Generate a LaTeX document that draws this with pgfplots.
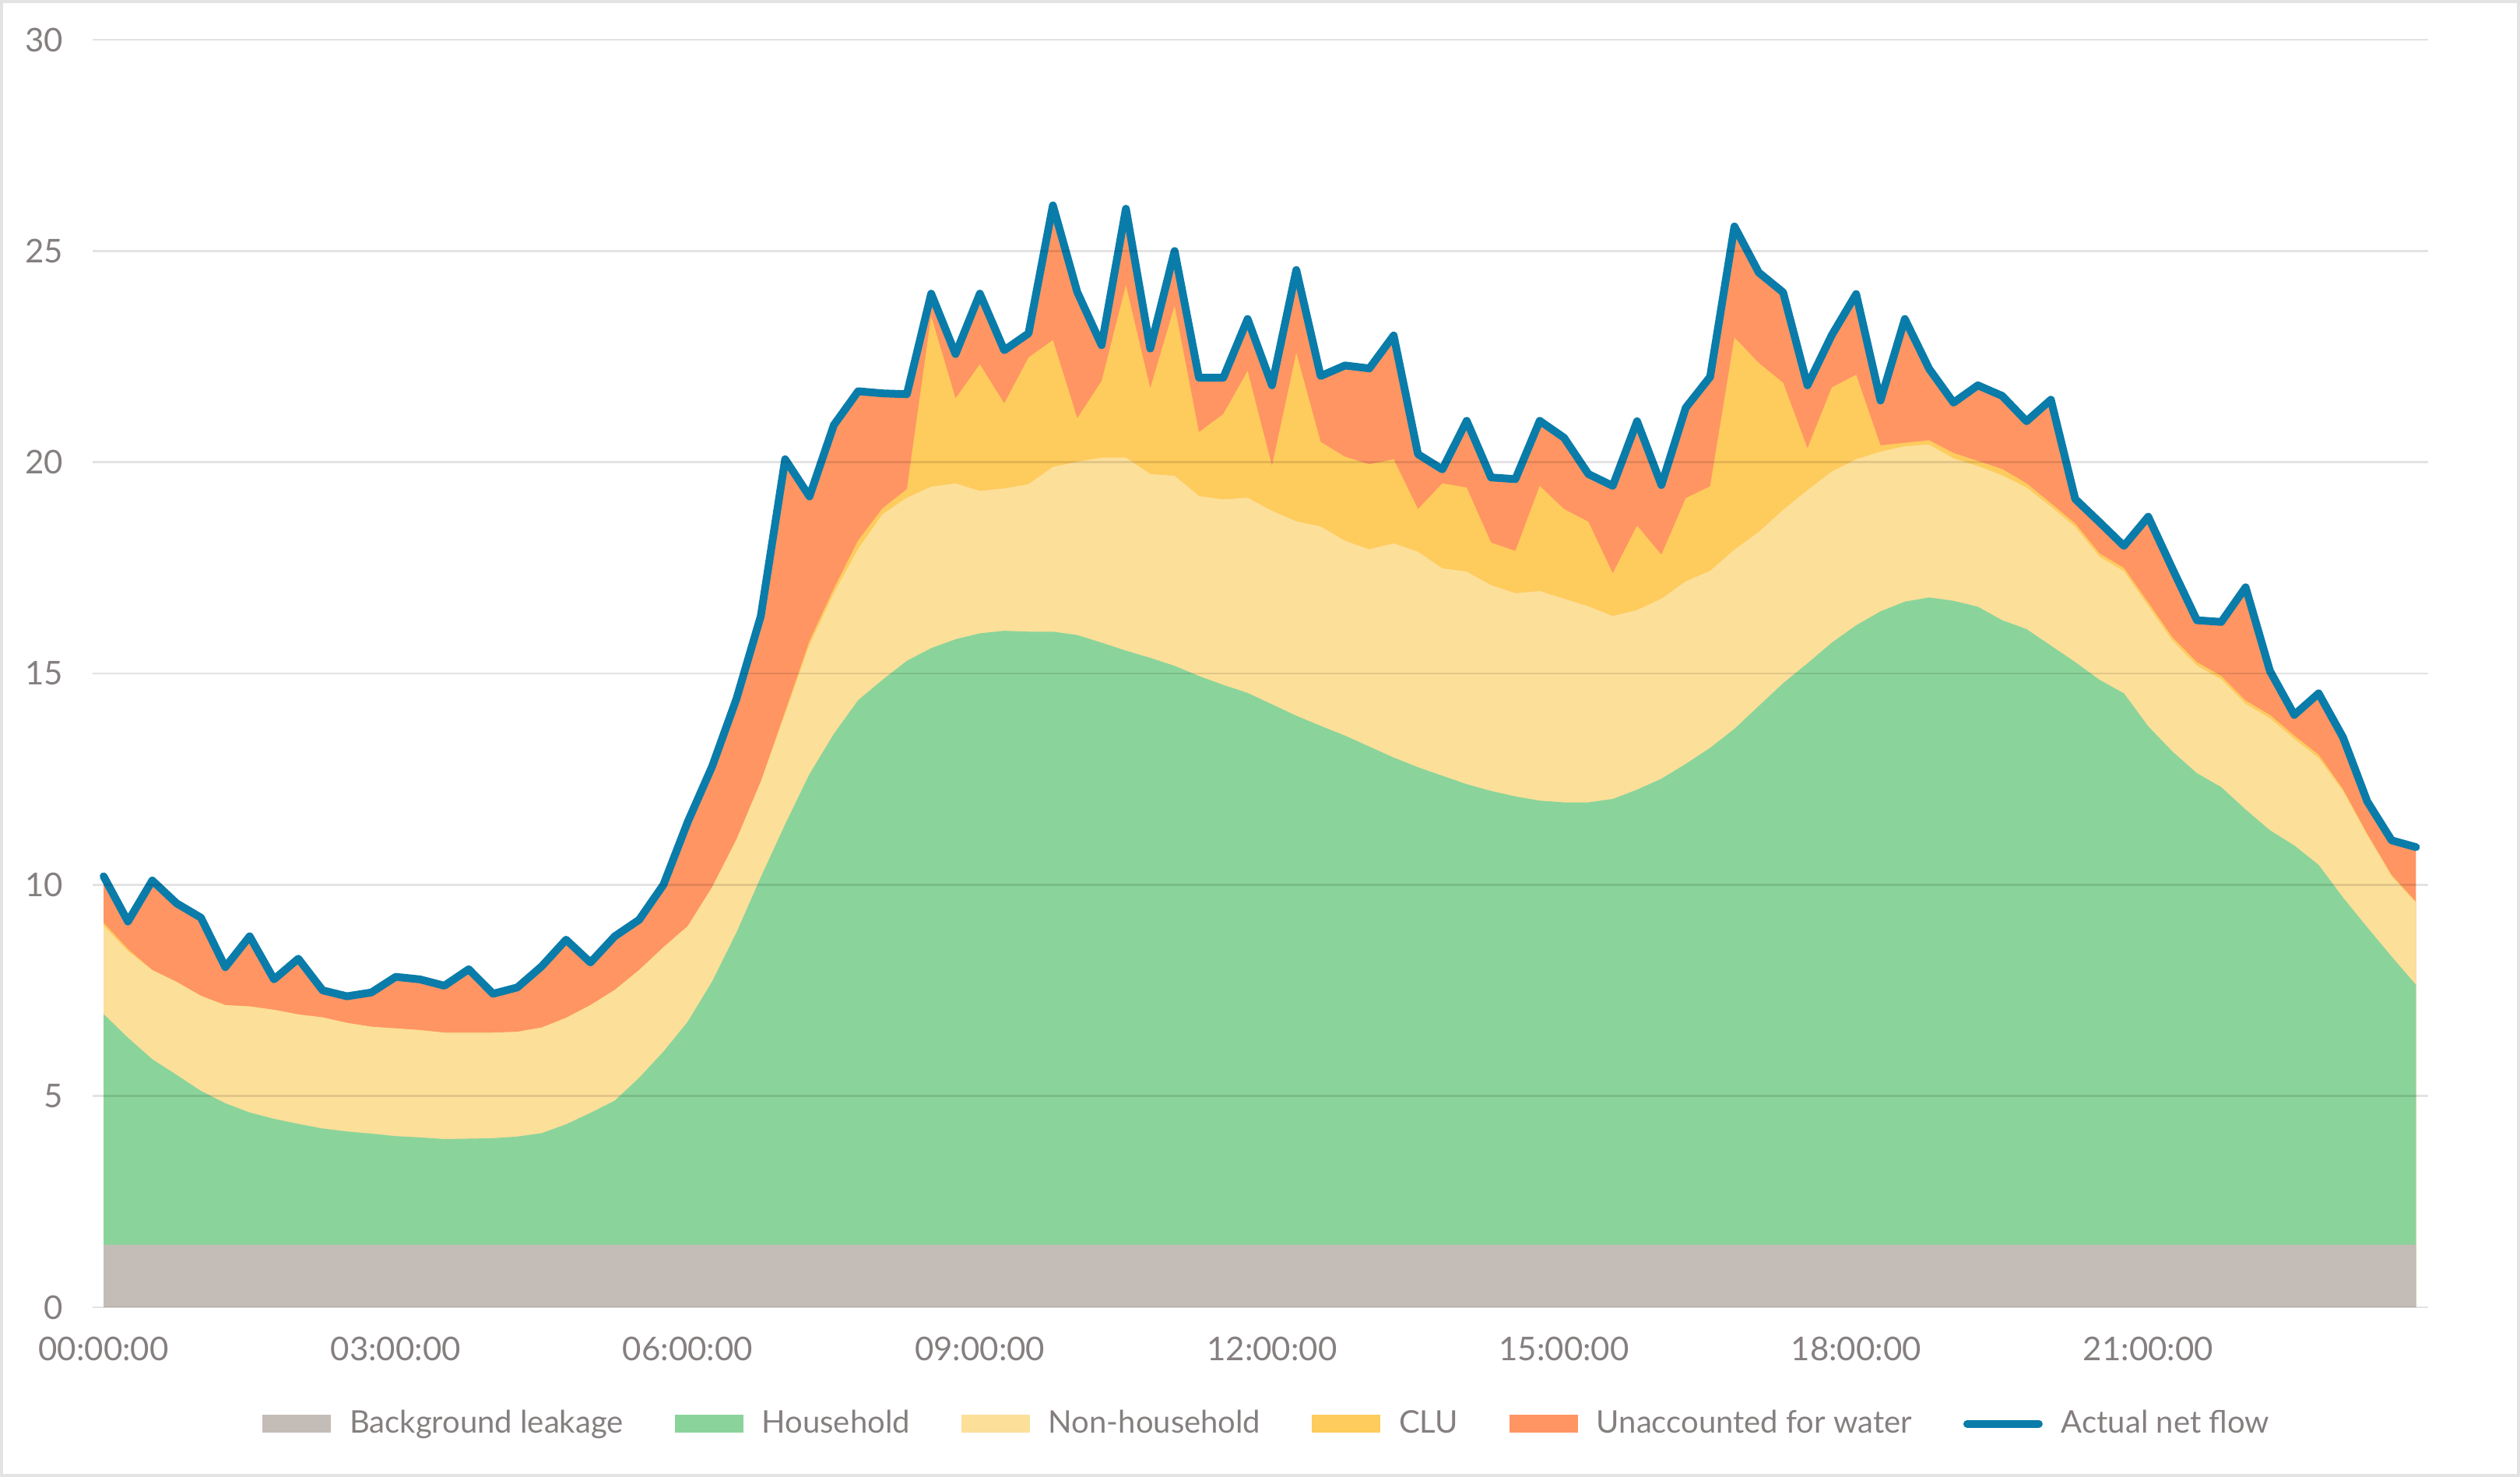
\documentclass[border=0pt]{standalone}
\usepackage{pgfplots}
\usepackage{pgfplotstable}
\pgfplotsset{compat=1.18}
\usepackage{fontspec}
\setmainfont{Lato}
\definecolor{bgc}{RGB}{196,188,183}
\definecolor{hhc}{RGB}{138,212,155}
\definecolor{nhc}{RGB}{252,223,153}
\definecolor{cluc}{RGB}{254,203,93}
\definecolor{ufwc}{RGB}{255,149,99}
\definecolor{linec}{RGB}{10,124,170}
\definecolor{tc}{RGB}{133,127,127}
\definecolor{framec}{RGB}{227,227,227}
\pgfplotstableread{
i bg hh nh clu tot
0 1.48 6.94 9.03 9.10 10.20
1 1.48 6.38 8.43 8.48 9.13
2 1.48 5.87 7.98 7.98 10.10
3 1.48 5.50 7.70 7.70 9.56
4 1.48 5.12 7.37 7.37 9.22
5 1.48 4.83 7.15 7.15 8.05
6 1.48 4.61 7.12 7.12 8.78
7 1.48 4.46 7.04 7.04 7.76
8 1.48 4.34 6.93 6.93 8.25
9 1.48 4.23 6.86 6.86 7.50
10 1.48 4.16 6.73 6.73 7.36
11 1.48 4.11 6.64 6.64 7.45
12 1.48 4.05 6.60 6.60 7.82
13 1.48 4.02 6.56 6.56 7.76
14 1.48 3.98 6.50 6.50 7.61
15 1.48 3.99 6.50 6.50 8.00
16 1.48 4.00 6.50 6.50 7.42
17 1.48 4.04 6.52 6.52 7.57
18 1.48 4.12 6.62 6.62 8.07
19 1.48 4.33 6.85 6.85 8.70
20 1.48 4.60 7.15 7.15 8.16
21 1.48 4.89 7.51 7.51 8.78
22 1.48 5.43 7.98 7.98 9.17
23 1.48 6.05 8.52 8.52 10.00
24 1.48 6.76 9.02 9.02 11.49
25 1.48 7.71 9.94 9.94 12.80
26 1.48 8.87 11.07 11.07 14.40
27 1.48 10.18 12.44 12.44 16.36
28 1.48 11.43 14.05 14.10 20.07
29 1.48 12.62 15.68 15.77 19.19
30 1.48 13.57 16.90 17.01 20.88
31 1.48 14.37 17.95 18.15 21.68
32 1.48 14.85 18.77 18.91 21.63
33 1.48 15.30 19.16 19.36 21.61
34 1.48 15.60 19.42 23.46 23.99
35 1.48 15.81 19.50 21.51 22.56
36 1.48 15.95 19.32 22.32 23.99
37 1.48 16.01 19.38 21.39 22.65
38 1.48 15.99 19.48 22.48 23.05
39 1.48 15.99 19.89 22.89 26.08
40 1.48 15.91 20.01 21.04 24.03
41 1.48 15.73 20.11 21.92 22.77
42 1.48 15.54 20.11 24.19 26.00
43 1.48 15.37 19.72 21.75 22.69
44 1.48 15.18 19.68 23.70 25.00
45 1.48 14.94 19.20 20.71 22.00
46 1.48 14.73 19.12 21.14 22.00
47 1.48 14.54 19.16 22.16 23.39
48 1.48 14.27 18.85 19.91 21.82
49 1.48 14.00 18.60 22.59 24.55
50 1.48 13.76 18.48 20.48 22.04
51 1.48 13.53 18.14 20.13 22.29
52 1.48 13.27 17.94 19.95 22.22
53 1.48 13.01 18.08 20.07 23.00
54 1.48 12.78 17.88 18.89 20.19
55 1.48 12.58 17.49 19.50 19.83
56 1.48 12.38 17.41 19.40 20.98
57 1.48 12.22 17.09 18.10 19.64
58 1.48 12.09 16.90 17.90 19.60
59 1.48 11.99 16.95 19.44 20.98
60 1.48 11.95 16.77 18.89 20.58
61 1.48 11.95 16.59 18.59 19.72
62 1.48 12.03 16.36 17.37 19.44
63 1.48 12.25 16.50 18.50 20.97
64 1.48 12.51 16.77 17.81 19.46
65 1.48 12.86 17.18 19.15 21.29
66 1.48 13.24 17.43 19.43 22.02
67 1.48 13.69 17.93 22.95 25.58
68 1.48 14.23 18.35 22.35 24.49
69 1.48 14.77 18.87 21.88 24.02
70 1.48 15.24 19.34 20.33 21.82
71 1.48 15.73 19.78 21.77 23.01
72 1.48 16.14 20.07 22.07 23.98
73 1.48 16.47 20.25 20.40 21.46
74 1.48 16.70 20.38 20.46 23.39
75 1.48 16.80 20.42 20.52 22.21
76 1.48 16.72 20.09 20.22 21.41
77 1.48 16.58 19.91 20.03 21.82
78 1.48 16.26 19.69 19.84 21.57
79 1.48 16.05 19.40 19.50 20.97
80 1.48 15.66 18.95 19.03 21.48
81 1.48 15.27 18.47 18.55 19.13
82 1.48 14.85 17.76 17.84 18.58
83 1.48 14.53 17.42 17.50 18.02
84 1.48 13.75 16.60 16.68 18.71
85 1.48 13.15 15.77 15.85 17.47
86 1.48 12.64 15.19 15.27 16.26
87 1.48 12.31 14.86 14.94 16.22
88 1.48 11.78 14.28 14.36 17.04
89 1.48 11.29 13.94 14.02 15.06
90 1.48 10.93 13.45 13.53 14.02
91 1.48 10.47 13.00 13.08 14.53
92 1.48 9.70 12.22 12.26 13.49
93 1.48 8.99 11.17 11.20 11.97
94 1.48 8.30 10.20 10.23 11.05
95 1.48 7.63 9.57 9.60 10.89
}\flowdata
\pgfplotsset{
  boxlegend/.style={legend image code/.code={\fill[##1, draw=none] (0pt,-2.9pt) rectangle (22pt,2.9pt);}},
  linelegend/.style={legend image code/.code={\draw[##1] (0pt,0pt) -- (23pt,0pt);}},
}
\begin{document}
\begin{tikzpicture}
\path[use as bounding box] (0,0) rectangle (809.25pt,474.25pt);
\draw[framec, line width=1pt] (0.5pt,0.5pt) rectangle (808.75pt,473.75pt);
\begin{axis}[
  at={(29.75pt,54.5pt)}, anchor=south west,
  scale only axis, width=750pt, height=407pt,
  xmin=-0.45, xmax=95.5, ymin=0, ymax=30,
  axis on top,
  axis line style={draw=none},
  tick style={draw=none},
  major tick length=0pt,
  ymajorgrids,
  grid style={black, opacity=0.11, line width=0.7pt},
  ytick={0,5,...,30},
  xtick={0,12,24,36,48,60,72,84},
  xticklabels={00:00:00,03:00:00,06:00:00,09:00:00,12:00:00,15:00:00,18:00:00,21:00:00},
  /pgf/number format/assume math mode=true,
  ticklabel style={text=tc, font=\fontsize{10.5pt}{12pt}\selectfont},
  xticklabel style={yshift=-6pt},
  yticklabel style={xshift=-6pt},
  legend columns=6,
  legend style={draw=none, fill=none, at={(0.5037,-0.0919)}, anchor=center,
    font=\fontsize{10pt}{12pt}\selectfont, text=tc,
    /tikz/every odd column/.append style={column sep=4pt},
    /tikz/every even column/.append style={column sep=14.5pt}},
]
\addplot[fill=ufwc, draw=none, forget plot] table[x=i, y=tot] {\flowdata} \closedcycle;
\addplot[fill=cluc, draw=none, forget plot] table[x=i, y=clu] {\flowdata} \closedcycle;
\addplot[fill=nhc, draw=none, forget plot] table[x=i, y=nh] {\flowdata} \closedcycle;
\addplot[fill=hhc, draw=none, forget plot] table[x=i, y=hh] {\flowdata} \closedcycle;
\addplot[fill=bgc, draw=none, forget plot] table[x=i, y=bg] {\flowdata} \closedcycle;
\addplot[linec, line width=2.5pt, line join=round, line cap=round, forget plot] table[x=i, y=tot] {\flowdata};
\addlegendimage{boxlegend, fill=bgc}
\addlegendentry{Background leakage}
\addlegendimage{boxlegend, fill=hhc}
\addlegendentry{Household}
\addlegendimage{boxlegend, fill=nhc}
\addlegendentry{Non-household}
\addlegendimage{boxlegend, fill=cluc}
\addlegendentry{CLU}
\addlegendimage{boxlegend, fill=ufwc}
\addlegendentry{Unaccounted for water}
\addlegendimage{linelegend, linec, line width=2.5pt, line cap=round}
\addlegendentry{Actual net flow}
\end{axis}
\end{tikzpicture}
\end{document}
